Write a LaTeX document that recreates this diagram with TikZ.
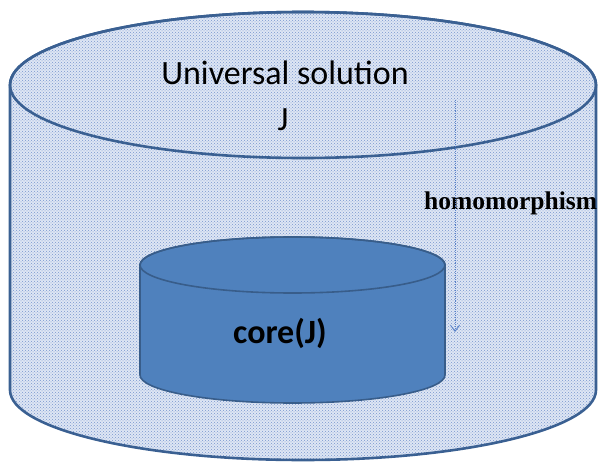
\documentclass[tikz,border=0pt]{standalone}
\usepackage{fontspec}
\setmainfont{Carlito}
\newfontfamily\serifbold{Liberation Serif}
\usetikzlibrary{arrows.meta,patterns}
\definecolor{outerfill}{RGB}{222,230,244}
\definecolor{outerdot}{RGB}{120,150,205}
\definecolor{outerline}{RGB}{58,96,146}
\definecolor{innerfill}{RGB}{79,129,189}
\definecolor{innerline}{RGB}{56,93,138}
\definecolor{arrowcol}{RGB}{90,130,200}
\tikzset{
  outerbody/.style={fill=outerfill},
  outerpat/.style={pattern=crosshatch dots, pattern color=outerdot},
  outerstroke/.style={draw=outerline, line width=2.6pt},
  innerbody/.style={fill=innerfill, draw=innerline, line width=1.6pt},
  label/.style={inner sep=0pt, font=\fontsize{34}{38}\selectfont},
}
\begin{document}
\begin{tikzpicture}[x=1pt,y=-1pt]
\useasboundingbox (0,0) rectangle (598,463);
% outer cylinder body
\def\outerpath{(10,85) -- (10,390) arc[start angle=180,end angle=0,x radius=293,y radius=70] -- (596,85) arc[start angle=0,end angle=-180,x radius=293,y radius=73] -- cycle}
\path[outerbody] \outerpath;
\path[outerpat] \outerpath;
\draw[outerstroke] \outerpath;
\draw[outerstroke] (303,85) ellipse[x radius=293,y radius=73];
% inner cylinder
\path[innerbody] (140,265) -- (140,375) arc[start angle=180,end angle=0,x radius=152.5,y radius=28] -- (445,265) arc[start angle=0,end angle=-180,x radius=152.5,y radius=28] -- cycle;
\draw[innerline, line width=1.6pt] (292.5,265) ellipse[x radius=152.5,y radius=28];
% texts
\node[label] (univ) at (285,73) {Universal solution};
\node[label] (j) at (283,120) {J};
\node[label, font=\fontsize{34}{38}\selectfont\bfseries] (core) at (280,333) {core(J)};
\node[inner sep=0pt, anchor=west, font=\serifbold\fontsize{25.5}{28}\selectfont\bfseries] (hom) at (424,203) {homomorphism};
% arrow
\coordinate (a1) at (455,100);
\coordinate (a2) at (455,332);
\draw[arrowcol, densely dotted, line width=0.9pt, -{Straight Barb[length=6pt,width=9pt]}] (a1) -- (a2);
\end{tikzpicture}
\end{document}
